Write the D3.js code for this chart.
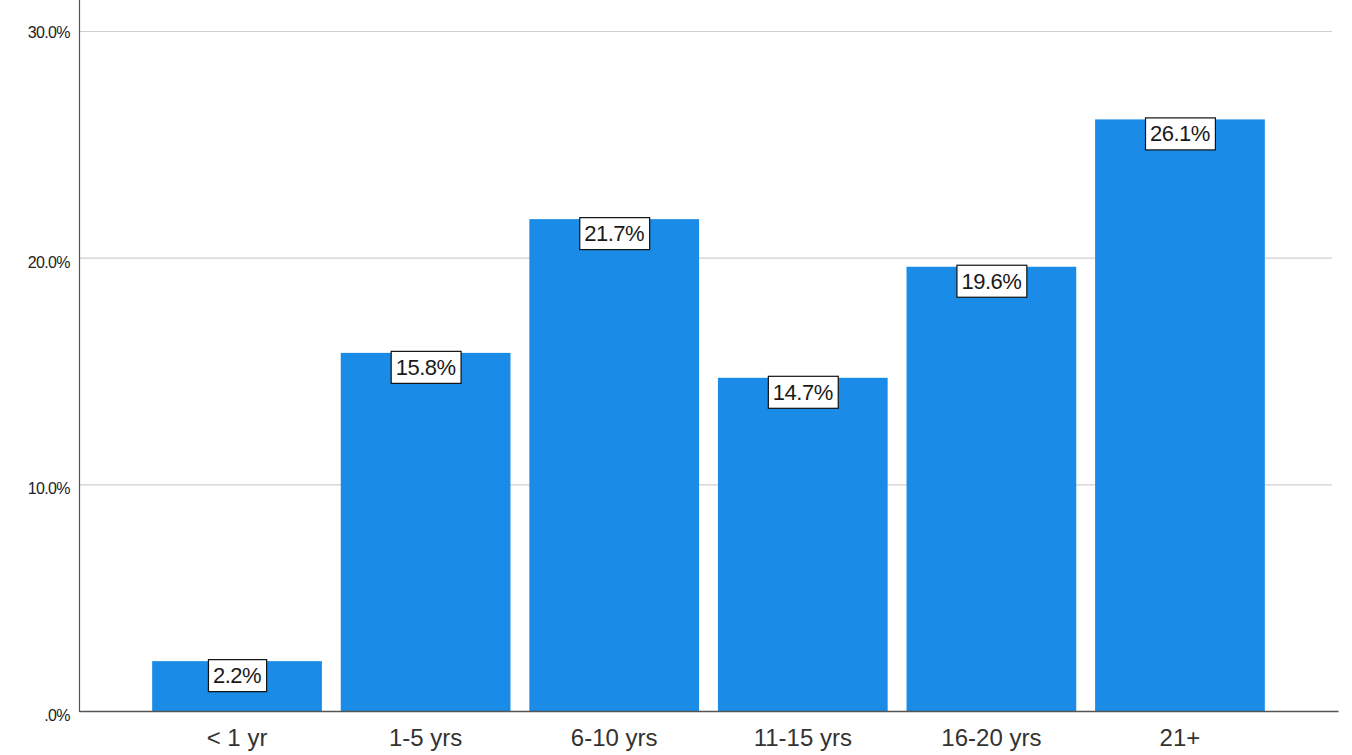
<!DOCTYPE html>
<html>
<head>
<meta charset="utf-8">
<script src="https://cdn.jsdelivr.net/npm/d3@7/dist/d3.min.js"></script>
<style>
  html, body { margin: 0; padding: 0; background: #fff; }
  svg { display: block; font-family: "Liberation Sans", Arial, sans-serif; }
</style>
</head>
<body>
<svg id="chart" width="1352" height="755"></svg>
<script>
// Years of experience, share of respondents (%)
const categories = ["< 1 yr", "1-5 yrs", "6-10 yrs", "11-15 yrs", "16-20 yrs", "21+"];
const percents = [2.2, 15.8, 21.7, 14.7, 19.6, 26.1];
const yTicks = [0, 10, 20, 30];
const yTickLabels = [".0%", "10.0%", "20.0%", "30.0%"];

const svg = d3.select("#chart");
const left = 79, right = 1338, bottom = 711;

const x = d3.scaleBand()
  .domain(categories)
  .range([left, right])
  .paddingInner(0.1)
  .paddingOuter(0.388);

const y = d3.scaleLinear().domain([0, 30]).range([bottom, 31]);

// horizontal gridlines
svg.append("g")
  .selectAll("line")
  .data(yTicks.filter(d => d > 0))
  .join("line")
  .attr("x1", left + 1)
  .attr("x2", 1332)
  .attr("y1", d => y(d) + 0.5)
  .attr("y2", d => y(d) + 0.5)
  .attr("stroke", "#cfcfcf")
  .attr("stroke-width", 1.2);

// bars
svg.append("g")
  .selectAll("rect")
  .data(percents)
  .join("rect")
  .attr("x", (d, i) => x(categories[i]))
  .attr("width", x.bandwidth())
  .attr("y", d => y(d))
  .attr("height", d => bottom - y(d))
  .attr("fill", "#1a8be6");

// axes
const yAxis = d3.axisLeft(y)
  .tickValues(yTicks)
  .tickFormat((d, i) => yTickLabels[i])
  .tickSize(0)
  .tickPadding(9);
const gy = svg.append("g").attr("transform", `translate(${left},0)`).call(yAxis);
gy.select(".domain").remove();
gy.selectAll("text")
  .attr("font-size", 16)
  .attr("letter-spacing", -0.6)
  .attr("fill", "#222")
  .attr("font-family", "'Liberation Sans', Arial, sans-serif")
  .attr("dy", (d) => d === 30 ? "0.4em" : "0.6em");

svg.append("line")
  .attr("x1", left + 0.5).attr("x2", left + 0.5)
  .attr("y1", 0).attr("y2", bottom + 1)
  .attr("stroke", "#555").attr("stroke-width", 1.2);

const xAxis = d3.axisBottom(x).tickSize(0).tickPadding(18);
const gx = svg.append("g").attr("transform", `translate(0,${bottom})`).call(xAxis);
gx.select(".domain")
  .attr("stroke", "#555")
  .attr("stroke-width", 1.4);
gx.selectAll("text")
  .attr("font-size", 24)
  .attr("fill", "#333")
  .attr("font-family", "'Liberation Sans', Arial, sans-serif");

// value labels in white boxes
const lab = svg.append("g")
  .selectAll("g")
  .data(percents)
  .join("g")
  .attr("transform", (d, i) => `translate(${x(categories[i]) + x.bandwidth() / 2},${y(d) - 2})`);

const boxH = 32;
lab.append("rect").attr("class", "box");
lab.append("text")
  .attr("text-anchor", "middle")
  .attr("y", boxH / 2)
  .attr("dy", "0.36em")
  .attr("font-size", 22)
  .attr("letter-spacing", -0.5)
  .attr("fill", "#1a1a1a")
  .text(d => d.toFixed(1) + "%");

lab.each(function () {
  const g = d3.select(this);
  const w = g.select("text").node().getComputedTextLength() + 10;
  g.select("rect")
    .attr("x", -w / 2 + 0.5)
    .attr("y", 0.5)
    .attr("width", w)
    .attr("height", boxH)
    .attr("fill", "#fff")
    .attr("stroke", "#111")
    .attr("stroke-width", 1.2);
});
</script>
</body>
</html>
